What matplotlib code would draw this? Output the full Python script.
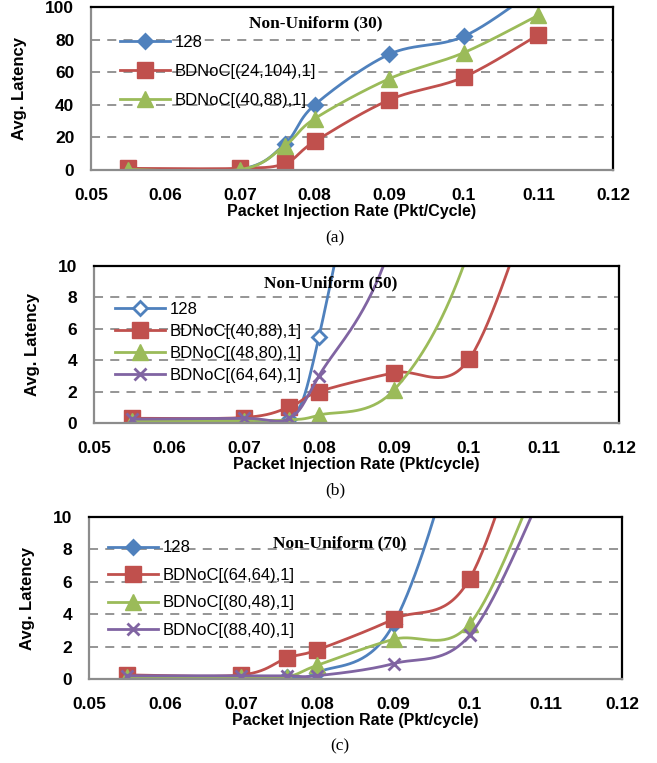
import matplotlib
matplotlib.use("Agg")
import matplotlib.pyplot as plt
import numpy as np

# Data
rate = [0.055, 0.07, 0.076, 0.08, 0.09, 0.1, 0.11]

# (a) Non-Uniform (30)
a_labels = ["128", "BDNoC[(24,104),1]", "BDNoC[(40,88),1]"]
a_128 = [0.5, 0.5, 16, 40, 71, 82, 112]
a_24_104 = [1.0, 1.0, 4, 17.5, 43, 57, 83]
a_40_88 = [0.3, 0.3, 15, 31.5, 56, 72, 95]

# (b) Non-Uniform (50)
b_labels = ["128", "BDNoC[(40,88),1]", "BDNoC[(48,80),1]", "BDNoC[(64,64),1]"]
b_128 = [0.05, 0.2, 0.25, 5.5, 30, 60, 90]
b_40_88 = [0.3, 0.35, 1.0, 2.0, 3.2, 4.05, 16.5]
b_48_80 = [0.1, 0.15, 0.2, 0.5, 2.1, 11, 30]
b_64_64 = [0.25, 0.3, 0.3, 3.0, 12, 35, 60]

# (c) Non-Uniform (70)
c_labels = ["128", "BDNoC[(64,64),1]", "BDNoC[(80,48),1]", "BDNoC[(88,40),1]"]
c_128 = [-0.05, 0.1, 0.1, 0.4, 3.4, 18, 40]
c_64_64 = [0.25, 0.25, 1.3, 1.8, 3.7, 6.2, 20]
c_80_48 = [0.1, 0.15, 0.15, 0.85, 2.45, 3.4, 13.5]
c_88_40 = [0.2, 0.2, 0.2, 0.2, 0.95, 2.7, 12]

blue, red, green, purple = "#4F81BD", "#C0504D", "#9BBB59", "#8064A2"
tickfont = "Liberation Sans"
serif = "Liberation Serif"


def smooth(x, y, n=40):
    # Excel-style smoothed line (Catmull-Rom Bezier) through the points
    P = np.column_stack([x, y]).astype(float)
    out = []
    t = np.linspace(0, 1, n)[:, None]
    for i in range(len(P) - 1):
        p0 = P[i - 1] if i > 0 else P[i]
        p1, p2 = P[i], P[i + 1]
        p3 = P[i + 2] if i + 2 < len(P) else P[i + 1]
        c1 = p1 + (p2 - p0) / 6
        c2 = p2 - (p3 - p1) / 6
        seg = ((1 - t) ** 3) * p1 + 3 * ((1 - t) ** 2) * t * c1 + 3 * (1 - t) * t ** 2 * c2 + t ** 3 * p2
        out.append(seg)
    S = np.vstack(out)
    return S[:, 0], S[:, 1]


def draw(ax, series, ymax, ystep, title, title_xy, xlabel, leg_xy, leg_space):
    for y, lab, col, mk, ms, mfc in series:
        sx, sy = smooth(rate, y)
        ax.plot(sx, sy, color=col, lw=2)
        ax.plot(rate, y, linestyle="none", marker=mk, ms=ms, color=col,
                mfc=mfc, mew=2 if mk in ("x", "D") else 1)
    # legend proxies
    handles = [plt.Line2D([], [], color=c, lw=2, marker=m, ms=s, mfc=f,
                          mew=2 if m in ("x", "D") else 1)
               for _, _, c, m, s, f in series]
    ax.legend(handles, [s[1] for s in series], loc="upper left",
              bbox_to_anchor=leg_xy, frameon=False, handlelength=3.0,
              handletextpad=0.3, labelspacing=leg_space, borderpad=0,
              borderaxespad=0, prop={"family": tickfont, "size": 12})
    ax.set_xlim(0.05, 0.12)
    ax.set_ylim(0, ymax)
    ax.set_xticks(np.arange(0.05, 0.1201, 0.01))
    ax.set_xticklabels(["0.05", "0.06", "0.07", "0.08", "0.09", "0.1", "0.11", "0.12"])
    ax.set_yticks(np.arange(0, ymax + 0.1, ystep))
    for yv in np.arange(ystep, ymax, ystep):
        ax.axhline(yv, color="#8C8C8C", lw=1.3, ls=(0, (5, 4)), zorder=0)
    ax.tick_params(axis="x", length=0, pad=13)
    ax.tick_params(axis="y", length=0, pad=12)
    for lab in ax.get_xticklabels() + ax.get_yticklabels():
        lab.set_family(tickfont)
        lab.set_fontweight("bold")
        lab.set_fontsize(12.5)
    ax.spines["left"].set_color("#8C8C8C")
    ax.spines["bottom"].set_color("#8C8C8C")
    ax.spines["top"].set_color("black")
    ax.spines["right"].set_color("black")
    for sp in ax.spines.values():
        sp.set_linewidth(1.6)
    ax.text(title_xy[0], title_xy[1], title, transform=ax.transAxes,
            ha="center", va="center", family=serif, fontweight="bold", fontsize=12.5)
    ax.set_xlabel(xlabel, family=tickfont, fontweight="bold", fontsize=11.5, labelpad=1)
    ax.set_ylabel("Avg. Latency", family=tickfont, fontweight="bold", fontsize=12, labelpad=13)


fig = plt.figure(figsize=(6.57, 7.63), dpi=100)
ax_a = fig.add_axes([0.1385, 0.7772, 0.7945, 0.2136])
ax_b = fig.add_axes([0.1431, 0.4456, 0.7990, 0.2058])
ax_c = fig.add_axes([0.1355, 0.1101, 0.8113, 0.2123])

draw(ax_a, [(a_128, a_labels[0], blue, "D", 7.5, blue),
            (a_24_104, a_labels[1], red, "s", 12, red),
            (a_40_88, a_labels[2], green, "^", 12, green)],
     100, 20, "Non-Uniform (30)", (0.43, 0.90),
     "Packet Injection Rate (Pkt/Cycle)", (0.055, 0.83), 0.85)

draw(ax_b, [(b_128, b_labels[0], blue, "D", 7.5, "white"),
            (b_40_88, b_labels[1], red, "s", 12, red),
            (b_48_80, b_labels[2], green, "^", 12, green),
            (b_64_64, b_labels[3], purple, "x", 9, purple)],
     10, 2, "Non-Uniform (50)", (0.45, 0.89),
     "Packet Injection Rate (Pkt/cycle)", (0.04, 0.77), 0.42)

draw(ax_c, [(c_128, c_labels[0], blue, "D", 7.5, blue),
            (c_64_64, c_labels[1], red, "s", 12, red),
            (c_80_48, c_labels[2], green, "^", 12, green),
            (c_88_40, c_labels[3], purple, "x", 9, purple)],
     10, 2, "Non-Uniform (70)", (0.47, 0.84),
     "Packet Injection Rate (Pkt/cycle)", (0.035, 0.855), 0.75)

fig.text(0.51, 1 - 238 / 763, "(a)", ha="center", va="center", family=serif, fontsize=12.5)
fig.text(0.51, 1 - 490 / 763, "(b)", ha="center", va="center", family=serif, fontsize=12.5)
fig.text(0.517, 1 - 746 / 763, "(c)", ha="center", va="center", family=serif, fontsize=12.5)

fig.savefig("out.png", dpi=100)
